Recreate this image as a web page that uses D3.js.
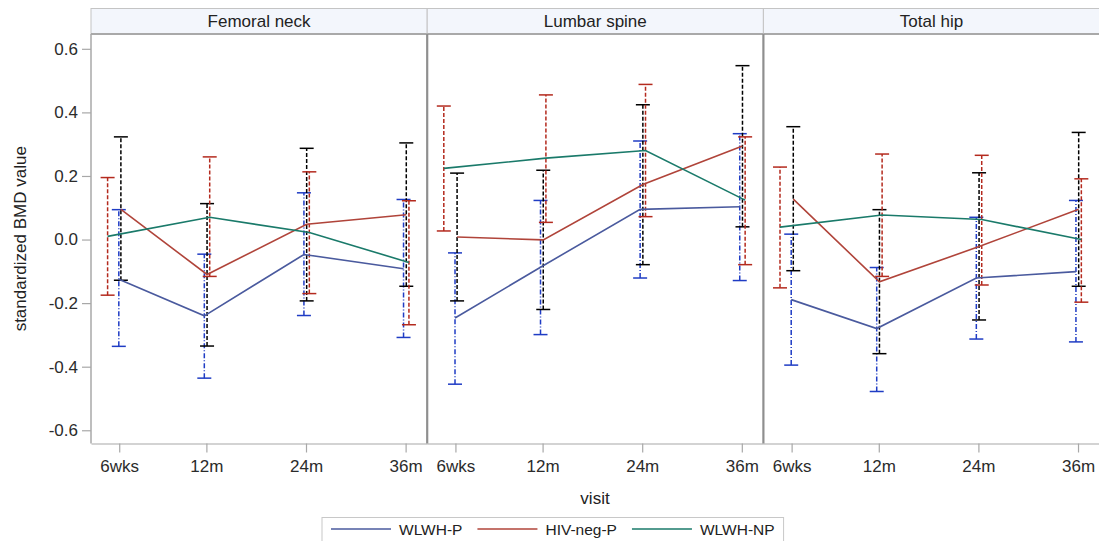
<!DOCTYPE html>
<html>
<head>
<meta charset="utf-8">
<script src="https://cdn.jsdelivr.net/npm/d3@7"></script>
<style>
  body { margin: 0; background: #fff; }
  svg { display: block; font-family: "Liberation Sans", Arial, sans-serif; }
  .tick text { fill: #2b2b2b; }
</style>
</head>
<body>
<div id="chart"></div>
<script>
// visits and their position on a month axis
const visits = ["6wks", "12m", "24m", "36m"];
const visitMonths = [1.5, 12, 24, 36];
const sites = ["Femoral neck", "Lumbar spine", "Total hip"];
const groups = ["WLWH-P", "HIV-neg-P", "WLWH-NP"];
const yTicks = [-0.6, -0.4, -0.2, 0.0, 0.2, 0.4, 0.6];

// each group is drawn slightly shifted around the visit (months)
const timeP   = [1.45, 11.75, 23.75, 35.75];
const timeNeg = [1.7, 12.08, 24.08, 36.08];
const timeNP  = [0.1, 12.4, 24.4, 36.4];

// Femoral neck
const fnMeanP   = [-0.125, -0.24, -0.047, -0.092];
const fnLowP    = [-0.336, -0.436, -0.239, -0.308];
const fnHighP   = [0.094, -0.046, 0.147, 0.126];
const fnMeanNeg = [0.095, -0.11, 0.048, 0.078];
const fnLowNeg  = [-0.128, -0.335, -0.193, -0.147];
const fnHighNeg = [0.323, 0.113, 0.287, 0.304];
const fnMeanNP  = [0.01, 0.07, 0.022, -0.072];
const fnLowNP   = [-0.175, -0.116, -0.17, -0.268];
const fnHighNP  = [0.195, 0.26, 0.213, 0.122];

// Lumbar spine
const lsMeanP   = [-0.247, -0.087, 0.095, 0.103];
const lsLowP    = [-0.455, -0.299, -0.121, -0.129];
const lsHighP   = [-0.042, 0.123, 0.31, 0.333];
const lsMeanNeg = [0.008, -0.001, 0.173, 0.294];
const lsLowNeg  = [-0.193, -0.22, -0.079, 0.04];
const lsHighNeg = [0.209, 0.218, 0.424, 0.547];
const lsMeanNP  = [0.224, 0.256, 0.28, 0.124];
const lsLowNP   = [0.027, 0.054, 0.072, -0.079];
const lsHighNP  = [0.42, 0.455, 0.488, 0.323];

// Total hip
const thMeanP   = [-0.189, -0.28, -0.121, -0.101];
const thLowP    = [-0.395, -0.478, -0.313, -0.322];
const thHighP   = [0.017, -0.088, 0.07, 0.123];
const thMeanNeg = [0.127, -0.133, -0.022, 0.095];
const thLowNeg  = [-0.098, -0.359, -0.253, -0.147];
const thHighNeg = [0.355, 0.094, 0.21, 0.337];
const thMeanNP  = [0.039, 0.077, 0.063, 0.0];
const thLowNP   = [-0.152, -0.116, -0.143, -0.197];
const thHighNP  = [0.228, 0.269, 0.265, 0.191];

const lineColors = ["#4a5a9e", "#b0443a", "#1a7a6a"];
const barColors  = ["#1f3cc4", "#000000", "#b42a1e"];
const barDash    = ["5,2,1,2", "4,2", "4,2"];

const W = 1099, H = 541;
const left = 91, panelW = 336.2;
const headTop = 8.5, plotTop = 34, plotBottom = 443.5;

// assemble per-panel series from the arrays above
const times = [timeP, timeNeg, timeNP];
const panelData = [
  [[fnMeanP, fnLowP, fnHighP], [fnMeanNeg, fnLowNeg, fnHighNeg], [fnMeanNP, fnLowNP, fnHighNP]],
  [[lsMeanP, lsLowP, lsHighP], [lsMeanNeg, lsLowNeg, lsHighNeg], [lsMeanNP, lsLowNP, lsHighNP]],
  [[thMeanP, thLowP, thHighP], [thMeanNeg, thLowNeg, thHighNeg], [thMeanNP, thLowNP, thHighNP]]
];

const svg = d3.select("#chart").append("svg")
  .attr("width", W).attr("height", H);

const x = d3.scaleLinear().domain([-1.9, 38.6]).range([0, panelW]);
const y = d3.scaleLinear().domain([-0.6416, 0.6466]).range([plotBottom, plotTop]);

sites.forEach((site, p) => {
  const g = svg.append("g").attr("transform", `translate(${left + p * panelW},0)`);

  // header strip
  g.append("rect")
    .attr("x", 0).attr("y", headTop)
    .attr("width", panelW).attr("height", plotTop - headTop)
    .attr("fill", "#f3f6fc").attr("stroke", "#c4c4c4").attr("stroke-width", 1);
  g.append("line")
    .attr("x1", 0).attr("x2", panelW).attr("y1", plotTop).attr("y2", plotTop)
    .attr("stroke", "#a9a9a9").attr("stroke-width", 2);
  g.append("text")
    .attr("x", panelW / 2).attr("y", 27)
    .attr("text-anchor", "middle")
    .attr("font-size", 17).attr("fill", "#222")
    .text(site);

  // x axis
  const xa = g.append("g")
    .attr("transform", `translate(0,${plotBottom})`)
    .call(d3.axisBottom(x).tickValues(visitMonths)
      .tickFormat((d, i) => visits[i]).tickSize(9).tickPadding(7).tickSizeOuter(0));
  xa.select(".domain").attr("stroke", "#a8a8a8").attr("stroke-width", 1.2);
  xa.selectAll(".tick line").attr("stroke", "#a8a8a8").attr("stroke-width", 1.2);
  xa.selectAll(".tick text").attr("font-size", 17).attr("font-family", "Liberation Sans, Arial, sans-serif");

  // error bars
  const series = panelData[p];
  series.forEach((s, k) => {
    const [mean, low, high] = s;
    const pts = visits.map((v, i) => ({ t: times[k][i], m: mean[i], lo: low[i], hi: high[i] }));
    const eb = g.append("g");
    eb.selectAll("line.whisker").data(pts).enter().append("line")
      .attr("class", "whisker")
      .attr("x1", d => x(d.t)).attr("x2", d => x(d.t))
      .attr("y1", d => y(d.lo)).attr("y2", d => y(d.hi))
      .attr("stroke", barColors[k]).attr("stroke-width", 1.5)
      .attr("stroke-dasharray", barDash[k]);
    ["lo", "hi"].forEach(end => {
      eb.selectAll("line.cap-" + end).data(pts).enter().append("line")
        .attr("class", "cap-" + end)
        .attr("x1", d => x(d.t) - 7).attr("x2", d => x(d.t) + 7)
        .attr("y1", d => y(d[end])).attr("y2", d => y(d[end]))
        .attr("stroke", barColors[k]).attr("stroke-width", 1.5);
    });
  });

  // mean lines
  series.forEach((s, k) => {
    const pts = visits.map((v, i) => ({ t: times[k][i], m: s[0][i] }));
    g.append("path")
      .datum(pts)
      .attr("fill", "none")
      .attr("stroke", lineColors[k]).attr("stroke-width", 1.6)
      .attr("d", d3.line().x(d => x(d.t)).y(d => y(d.m)));
  });

  // left wall of the panel
  g.append("line")
    .attr("x1", 0).attr("x2", 0).attr("y1", plotTop).attr("y2", plotBottom)
    .attr("stroke", p === 0 ? "#a8a8a8" : "#8f8f8f").attr("stroke-width", p === 0 ? 1.5 : 2.2);
});

// y axis
const ya = svg.append("g")
  .attr("transform", `translate(${left},0)`)
  .call(d3.axisLeft(y).tickValues(yTicks).tickFormat(d => d.toFixed(1))
    .tickSize(9).tickPadding(4).tickSizeOuter(0));
ya.select(".domain").remove();
ya.selectAll(".tick line").attr("stroke", "#a8a8a8").attr("stroke-width", 1.2);
ya.selectAll(".tick text").attr("font-size", 17).attr("font-family", "Liberation Sans, Arial, sans-serif");

// axis titles
svg.append("text")
  .attr("transform", `translate(26,${(plotTop + plotBottom) / 2}) rotate(-90)`)
  .attr("text-anchor", "middle")
  .attr("font-size", 17).attr("fill", "#222")
  .text("standardized BMD value");
svg.append("text")
  .attr("x", 595).attr("y", 504)
  .attr("text-anchor", "middle")
  .attr("font-size", 17).attr("fill", "#222")
  .text("visit");

// legend
const leg = svg.append("g");
const legBox = leg.append("rect")
  .attr("y", 517.5).attr("height", 30)
  .attr("fill", "#fff").attr("stroke", "#c8c8c8").attr("stroke-width", 1);
let lx = 331;
groups.forEach((name, k) => {
  leg.append("line")
    .attr("x1", lx).attr("x2", lx + 60).attr("y1", 529).attr("y2", 529)
    .attr("stroke", lineColors[k]).attr("stroke-width", 1.6);
  const t = leg.append("text")
    .attr("x", lx + 68).attr("y", 534.5)
    .attr("font-size", 15.5).attr("fill", "#222")
    .text(name);
  lx += 68 + t.node().getComputedTextLength() + 15;
});
legBox.attr("x", 322).attr("width", lx - 15 + 9 - 322);
</script>
</body>
</html>
